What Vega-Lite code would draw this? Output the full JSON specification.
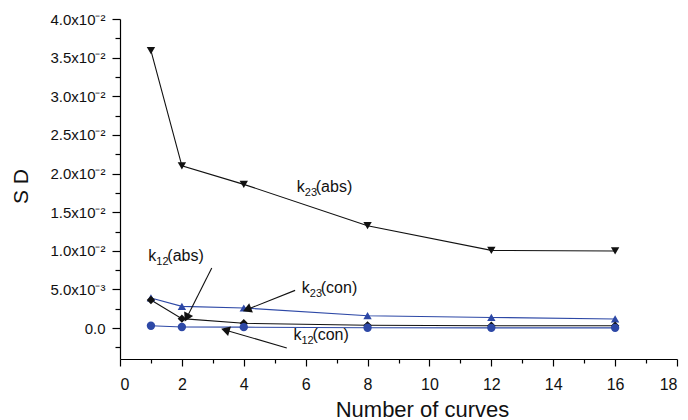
{
  "$schema": "https://vega.github.io/schema/vega-lite/v6.json",
  "width": 557,
  "height": 340,
  "autosize": "none",
  "padding": {"left": 120, "top": 19, "right": 11, "bottom": 61},
  "background": "white",
  "config": {
    "view": {"stroke": null},
    "font": "Liberation Sans",
    "axis": {"grid": false, "domainColor": "#000", "tickColor": "#000", "labelColor": "#111", "titleColor": "#111", "titleFontWeight": "normal", "domainWidth": 1.2, "tickWidth": 1.2, "labelOverlap": false}
  },
  "datasets": {
    "series": [
      {"series": "k23(abs)", "curves": 1, "sd": 0.0359},
      {"series": "k23(abs)", "curves": 2, "sd": 0.0210},
      {"series": "k23(abs)", "curves": 4, "sd": 0.0186},
      {"series": "k23(abs)", "curves": 8, "sd": 0.01325},
      {"series": "k23(abs)", "curves": 12, "sd": 0.01006},
      {"series": "k23(abs)", "curves": 16, "sd": 0.00998},
      {"series": "k23(con)", "curves": 1, "sd": 0.0039},
      {"series": "k23(con)", "curves": 2, "sd": 0.00281},
      {"series": "k23(con)", "curves": 4, "sd": 0.0026},
      {"series": "k23(con)", "curves": 8, "sd": 0.0016},
      {"series": "k23(con)", "curves": 12, "sd": 0.00138},
      {"series": "k23(con)", "curves": 16, "sd": 0.00118},
      {"series": "k12(abs)", "curves": 1, "sd": 0.00364},
      {"series": "k12(abs)", "curves": 2, "sd": 0.00122},
      {"series": "k12(abs)", "curves": 4, "sd": 0.00062},
      {"series": "k12(abs)", "curves": 8, "sd": 0.00036},
      {"series": "k12(abs)", "curves": 12, "sd": 0.00031},
      {"series": "k12(abs)", "curves": 16, "sd": 0.00031},
      {"series": "k12(con)", "curves": 1, "sd": 0.00031},
      {"series": "k12(con)", "curves": 2, "sd": 0.00014},
      {"series": "k12(con)", "curves": 4, "sd": 0.00012},
      {"series": "k12(con)", "curves": 8, "sd": 0.00005},
      {"series": "k12(con)", "curves": 12, "sd": 0.00003},
      {"series": "k12(con)", "curves": 16, "sd": 0.00003}
    ],
    "labels": [
      {"id": "k23abs", "x": 5.713, "y": 0.01756, "k": "k", "sub": "23", "rest": "(abs)"},
      {"id": "k12abs", "x": 0.915, "y": 0.00863, "k": "k", "sub": "12", "rest": "(abs)"},
      {"id": "k23con", "x": 5.874, "y": 0.00454, "k": "k", "sub": "23", "rest": "(con)"},
      {"id": "k12con", "x": 5.603, "y": -0.0015, "k": "k", "sub": "12", "rest": "(con)"}
    ],
    "arrows": [
      {"id": "a1", "x": 2.965, "y": 0.00778, "x2": 2.176, "y2": 0.00151},
      {"id": "a2", "x": 5.658, "y": 0.00488, "x2": 4.148, "y2": 0.00247},
      {"id": "a3", "x": 5.390, "y": -0.00258, "x2": 3.450, "y2": -0.0003}
    ]
  },
  "layer": [
    {
      "data": {"name": "series"},
      "mark": {"type": "line", "strokeWidth": 1.1},
      "encoding": {
        "x": {
          "field": "curves", "type": "quantitative",
          "scale": {"domain": [0, 18], "nice": false, "zero": false},
          "axis": {
            "values": [0,1,2,3,4,5,6,7,8,9,10,11,12,13,14,15,16,17,18],
            "tickCount": 40,
            "labelExpr": "datum.value % 2 == 0 ? datum.value : ''",
            "tickSize": {"condition": {"test": "datum.value % 2 != 0", "value": 4}, "value": 7},
            "labelFontSize": 16,
            "labelPadding": 10,
            "title": "Number of curves",
            "titleFontSize": 22,
            "titleX": 302,
            "titleY": 57,
            "titleAlign": "center",
            "titleBaseline": "alphabetic"
          }
        },
        "y": {
          "field": "sd", "type": "quantitative",
          "scale": {"domain": [-0.004, 0.04], "nice": false, "zero": false},
          "axis": {
            "values": [-0.0025, 0, 0.0025, 0.005, 0.0075, 0.01, 0.0125, 0.015, 0.0175, 0.02, 0.0225, 0.025, 0.0275, 0.03, 0.0325, 0.035, 0.0375, 0.04],
            "tickCount": 40,
            "labelExpr": "abs(datum.value) < 1e-9 ? '0.0' : (abs(datum.value - 0.005) < 1e-9 ? '5.0x10⁻³' : (datum.value > 0.0099 && round(datum.value*10000) % 50 == 0 ? format(datum.value*100, '.1f') + 'x10⁻²' : ''))",
            "tickSize": {"condition": {"test": "round(datum.value*10000) % 50 != 0", "value": 5}, "value": 8},
            "labelFontSize": 15,
            "labelPadding": 7,
            "title": "S D",
            "titleFontSize": 21,
            "titleAngle": -90,
            "titleX": -99,
            "titleY": 167,
            "titleAlign": "center",
            "titleBaseline": "middle"
          }
        },
        "color": {
          "field": "series", "type": "nominal",
          "scale": {"domain": ["k23(abs)", "k23(con)", "k12(abs)", "k12(con)"], "range": ["#111111", "#2d48a6", "#111111", "#2d48a6"]},
          "legend": null
        }
      }
    },
    {
      "data": {"name": "series"},
      "mark": {"type": "point", "filled": true, "opacity": 1, "size": 70},
      "encoding": {
        "x": {"field": "curves", "type": "quantitative"},
        "y": {"field": "sd", "type": "quantitative"},
        "color": {"field": "series", "type": "nominal"},
        "shape": {
          "field": "series", "type": "nominal",
          "scale": {"domain": ["k23(abs)", "k23(con)", "k12(abs)", "k12(con)"], "range": ["triangle-down", "triangle-up", "diamond", "circle"]},
          "legend": null
        }
      }
    },
    {
      "data": {"name": "arrows"},
      "mark": {"type": "rule", "color": "#111", "strokeWidth": 1.1},
      "encoding": {
        "x": {"field": "x", "type": "quantitative"},
        "y": {"field": "y", "type": "quantitative"},
        "x2": {"field": "x2"},
        "y2": {"field": "y2"}
      }
    },
    {
      "data": {"name": "arrows"},
      "transform": [{"filter": "datum.id == 'a1'"}],
      "mark": {"type": "point", "shape": "triangle", "filled": true, "color": "#111", "opacity": 1, "size": 100, "angle": 206.75},
      "encoding": {
        "x": {"field": "x2", "type": "quantitative"},
        "y": {"field": "y2", "type": "quantitative"}
      }
    },
    {
      "data": {"name": "arrows"},
      "transform": [{"filter": "datum.id == 'a2'"}],
      "mark": {"type": "point", "shape": "triangle", "filled": true, "color": "#111", "opacity": 1, "size": 100, "angle": 248.3},
      "encoding": {
        "x": {"field": "x2", "type": "quantitative"},
        "y": {"field": "y2", "type": "quantitative"}
      }
    },
    {
      "data": {"name": "arrows"},
      "transform": [{"filter": "datum.id == 'a3'"}],
      "mark": {"type": "point", "shape": "triangle", "filled": true, "color": "#111", "opacity": 1, "size": 100, "angle": 286.35},
      "encoding": {
        "x": {"field": "x2", "type": "quantitative"},
        "y": {"field": "y2", "type": "quantitative"}
      }
    },
    {
      "data": {"name": "labels"},
      "mark": {"type": "text", "align": "left", "baseline": "alphabetic", "fontSize": 16, "color": "#111"},
      "encoding": {
        "x": {"field": "x", "type": "quantitative"},
        "y": {"field": "y", "type": "quantitative"},
        "text": {"field": "k"}
      }
    },
    {
      "data": {"name": "labels"},
      "mark": {"type": "text", "align": "left", "baseline": "alphabetic", "fontSize": 11, "color": "#111", "dx": 8, "dy": 4},
      "encoding": {
        "x": {"field": "x", "type": "quantitative"},
        "y": {"field": "y", "type": "quantitative"},
        "text": {"field": "sub"}
      }
    },
    {
      "data": {"name": "labels"},
      "mark": {"type": "text", "align": "left", "baseline": "alphabetic", "fontSize": 16, "color": "#111", "dx": 19},
      "encoding": {
        "x": {"field": "x", "type": "quantitative"},
        "y": {"field": "y", "type": "quantitative"},
        "text": {"field": "rest"}
      }
    }
  ]
}
